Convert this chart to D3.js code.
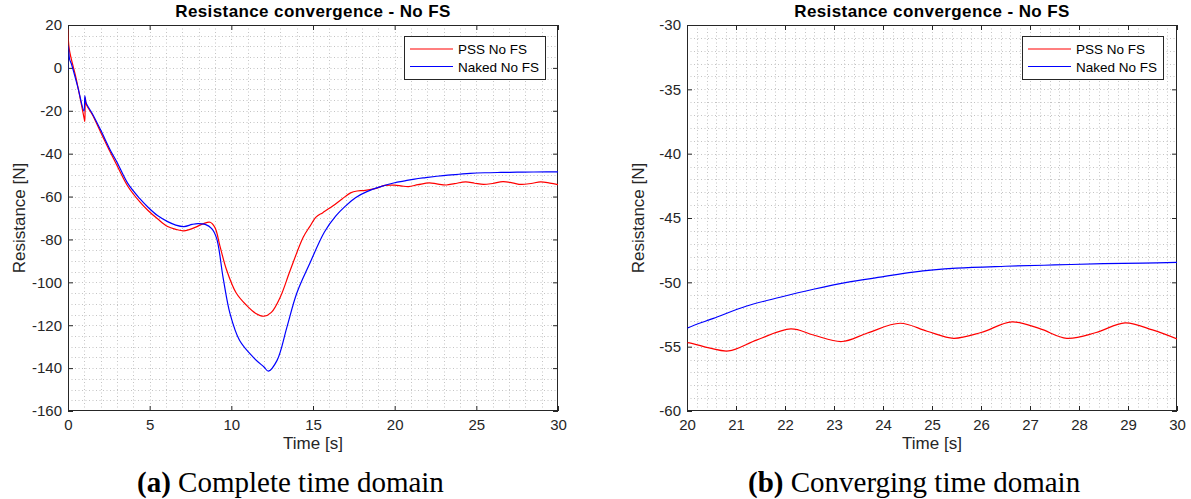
<!DOCTYPE html>
<html><head><meta charset="utf-8">
<script src="https://cdn.jsdelivr.net/npm/d3@7"></script>
<style>body{margin:0;background:#fff}svg{display:block}</style>
</head><body><svg id="c" width="1191" height="499"></svg>
<script>
// ---- data ----
const timePSS  = [0, 0.08, 0.5, 1.0, 1.03, 1.06, 1.12, 1.5, 2.0, 2.6, 3.0, 3.67, 4.4, 4.9, 5.5, 6.1, 6.6, 7.1, 7.75, 8.3, 8.7, 9.0, 9.3, 9.7, 10.3, 10.9, 11.5, 12.0, 12.45, 13.0, 13.6, 14.4, 14.8, 15.2, 15.6, 16.25, 16.8, 17.3, 17.7, 18.1, 18.8, 19.4, 20.0, 20.45, 20.85, 21.43, 22.12, 22.58, 23.16, 23.67, 24.35, 24.9, 25.44, 26.0, 26.63, 27.2, 27.75, 28.35, 28.94, 29.5, 30.0];
const forcePSS = [18, 8.6, -5, -24, -25, -14, -17, -22, -30, -39.5, -45.5, -55.3, -62.5, -66.5, -70.5, -74, -75.3, -76, -74.5, -72.6, -72, -74.5, -83, -94, -105, -110.5, -114.5, -115.8, -114, -106.8, -94.5, -79, -74, -69.5, -67.5, -64.2, -61, -58.3, -57.4, -57.2, -56.3, -54.8, -54.68, -55.1, -55.33, -54.47, -53.62, -54.09, -54.6, -53.96, -53.18, -53.8, -54.35, -53.9, -53.08, -53.6, -54.35, -53.9, -53.15, -53.7, -54.4];
const timeNaked  = [0, 0.02, 0.1, 0.22, 0.6, 0.98, 1.03, 1.1, 1.5, 2.0, 2.6, 3.0, 3.67, 4.4, 4.9, 5.5, 6.1, 6.6, 7.1, 7.6, 7.95, 8.4, 8.8, 9.1, 9.5, 9.92, 10.5, 11.35, 12.0, 12.27, 12.8, 13.4, 14.0, 14.8, 15.7, 16.4, 16.95, 17.6, 18.3, 19.1, 20.0, 20.54, 21.22, 21.9, 22.58, 23.26, 23.94, 24.62, 25.5, 26.5, 27.5, 28.5, 29.3, 30.0];
const forceNaked = [-1, 10.2, 4, 1.6, -9, -20.2, -13, -16.2, -21.5, -29, -38.5, -44, -54, -61, -65, -69, -71.7, -73.3, -74, -73, -72.6, -73, -75, -79.5, -98, -114.6, -127, -135, -139.5, -141.4, -136.4, -121, -105.2, -91.2, -76.5, -69, -64.7, -60.5, -57.7, -55.5, -53.57, -52.8, -51.84, -51.16, -50.54, -50.0, -49.6, -49.2, -48.9, -48.75, -48.65, -48.55, -48.5, -48.45];

const seriesNames  = ["PSS No FS", "Naked No FS"];
const seriesColors = ["#ff0000", "#0000ff"];
const titleText = "Resistance convergence - No FS";
const xLabelText = "Time [s]";
const yLabelText = "Resistance [N]";
const xTicksA = [0, 5, 10, 15, 20, 25, 30];
const yTicksA = [20, 0, -20, -40, -60, -80, -100, -120, -140, -160];
const xTicksB = [20, 21, 22, 23, 24, 25, 26, 27, 28, 29, 30];
const yTicksB = [-30, -35, -40, -45, -50, -55, -60];
const captionTags = ["(a)", "(b)"];
const captionTexts = ["Complete time domain", "Converging time domain"];

const svg = d3.select("#c");
const ink = "#262626";
const sans = "Liberation Sans, Arial, sans-serif";
const series = [
  timePSS.map((t, i) => [t, forcePSS[i]]),
  timeNaked.map((t, i) => [t, forceNaked[i]])
];

function panel(cfg, idx) {
  const {left, right, top, bottom} = cfg;
  const x = d3.scaleLinear().domain(cfg.xDomain).range([left, right]);
  const y = d3.scaleLinear().domain(cfg.yDomain).range([bottom, top]);
  const g = svg.append("g");

  // minor dotted grid
  const xs = d3.range(cfg.xDomain[0], cfg.xDomain[1] + 1e-9, cfg.xMinor).slice(1, -1);
  const ys = d3.range(cfg.yDomain[0], cfg.yDomain[1] + 1e-9, cfg.yMinor).slice(1, -1);
  g.append("g").selectAll("line").data(xs).join("line")
    .attr("x1", d => Math.round(x(d)) + 0.5).attr("x2", d => Math.round(x(d)) + 0.5)
    .attr("y1", top).attr("y2", bottom)
    .attr("stroke", "#c4c4c4").attr("stroke-width", 1).attr("stroke-dasharray", "1,2.5");
  g.append("g").selectAll("line").data(ys).join("line")
    .attr("y1", d => Math.round(y(d)) + 0.5).attr("y2", d => Math.round(y(d)) + 0.5)
    .attr("x1", left).attr("x2", right)
    .attr("stroke", "#c4c4c4").attr("stroke-width", 1).attr("stroke-dasharray", "1,2.5");

  // axes with inward ticks
  const fmt = d => String(d);
  const axB = g.append("g").attr("transform", `translate(0,${bottom})`)
    .call(d3.axisBottom(x).tickValues(cfg.xTicks).tickSizeInner(-5).tickSizeOuter(0).tickPadding(8).tickFormat(fmt));
  const axL = g.append("g").attr("transform", `translate(${left},0)`)
    .call(d3.axisLeft(y).tickValues(cfg.yTicks).tickSizeInner(-5).tickSizeOuter(0).tickPadding(6).tickFormat(fmt));
  const axT = g.append("g").attr("transform", `translate(0,${top})`)
    .call(d3.axisTop(x).tickValues(cfg.xTicks).tickSizeInner(-5).tickSizeOuter(0).tickFormat(""));
  const axR = g.append("g").attr("transform", `translate(${right},0)`)
    .call(d3.axisRight(y).tickValues(cfg.yTicks).tickSizeInner(-5).tickSizeOuter(0).tickFormat(""));
  [axB, axL, axT, axR].forEach(a => {
    a.select(".domain").remove();
    a.selectAll(".tick line").attr("stroke", ink);
    a.selectAll("text").attr("fill", ink).attr("font-family", sans).attr("font-size", 15);
  });
  g.append("rect").attr("x", left + 0.5).attr("y", top + 0.5)
    .attr("width", right - left - 1).attr("height", bottom - top - 1)
    .attr("fill", "none").attr("stroke", ink).attr("stroke-width", 1);

  // data lines (drawn over the box, like the reference)
  const clipId = "clip" + idx;
  svg.append("clipPath").attr("id", clipId).append("rect")
    .attr("x", left + 0.5).attr("y", top).attr("width", right - left - 0.5).attr("height", bottom - top);
  const line = d3.line().x(d => x(d[0])).y(d => y(d[1])).curve(d3.curveCatmullRom.alpha(0.5));
  series.forEach((s, i) => {
    g.append("path").attr("clip-path", `url(#${clipId})`)
      .attr("d", line(s.filter(d => d[0] >= cfg.xDomain[0] - 1.5)))
      .attr("fill", "none").attr("stroke", seriesColors[i]).attr("stroke-width", 1.2);
  });

  // title & labels
  g.append("text").attr("x", (left + right) / 2).attr("y", 17)
    .attr("text-anchor", "middle").attr("font-family", sans)
    .attr("font-weight", "bold").attr("font-size", 17).attr("letter-spacing", 0.4)
    .attr("fill", "#000").text(titleText);
  g.append("text").attr("x", (left + right) / 2).attr("y", 449)
    .attr("text-anchor", "middle").attr("font-family", sans)
    .attr("font-size", 17).attr("fill", ink).text(xLabelText);
  g.append("text").attr("transform", `translate(${left - 43},${(top + bottom) / 2}) rotate(-90)`)
    .attr("text-anchor", "middle").attr("font-family", sans)
    .attr("font-size", 17).attr("fill", ink).text(yLabelText);

  // legend
  const lg = g.append("g").attr("transform", `translate(${cfg.legX},${cfg.legY})`);
  lg.append("rect").attr("x", 0.5).attr("y", 0.5).attr("width", 141).attr("height", 43)
    .attr("fill", "#fff").attr("stroke", ink).attr("stroke-width", 1);
  seriesNames.forEach((n, i) => {
    const yy = 13 + i * 17.5;
    lg.append("line").attr("x1", 6).attr("x2", 49).attr("y1", yy).attr("y2", yy)
      .attr("stroke", seriesColors[i]).attr("stroke-width", 1.2);
    lg.append("text").attr("x", 54).attr("y", yy + 5).attr("font-family", sans)
      .attr("font-size", 13.5).attr("fill", "#000").text(n);
  });

  // caption
  const cap = g.append("text").attr("x", cfg.capX).attr("y", 492)
    .attr("font-family", "Liberation Serif, Times New Roman, serif").attr("font-size", 29).attr("fill", "#000");
  cap.append("tspan").attr("font-weight", "bold").text(captionTags[idx]);
  cap.append("tspan").text("\u00a0" + captionTexts[idx]);
}

panel({left: 68, right: 558, top: 25, bottom: 411, xDomain: [0, 30], yDomain: [-160, 20],
  xTicks: xTicksA, yTicks: yTicksA, xMinor: 1, yMinor: 5, legX: 404, legY: 36, capX: 137}, 0);
panel({left: 687, right: 1177, top: 25, bottom: 411, xDomain: [20, 30], yDomain: [-60, -30],
  xTicks: xTicksB, yTicks: yTicksB, xMinor: 0.2, yMinor: 1, legX: 1022, legY: 36, capX: 748}, 1);
</script></body></html>
